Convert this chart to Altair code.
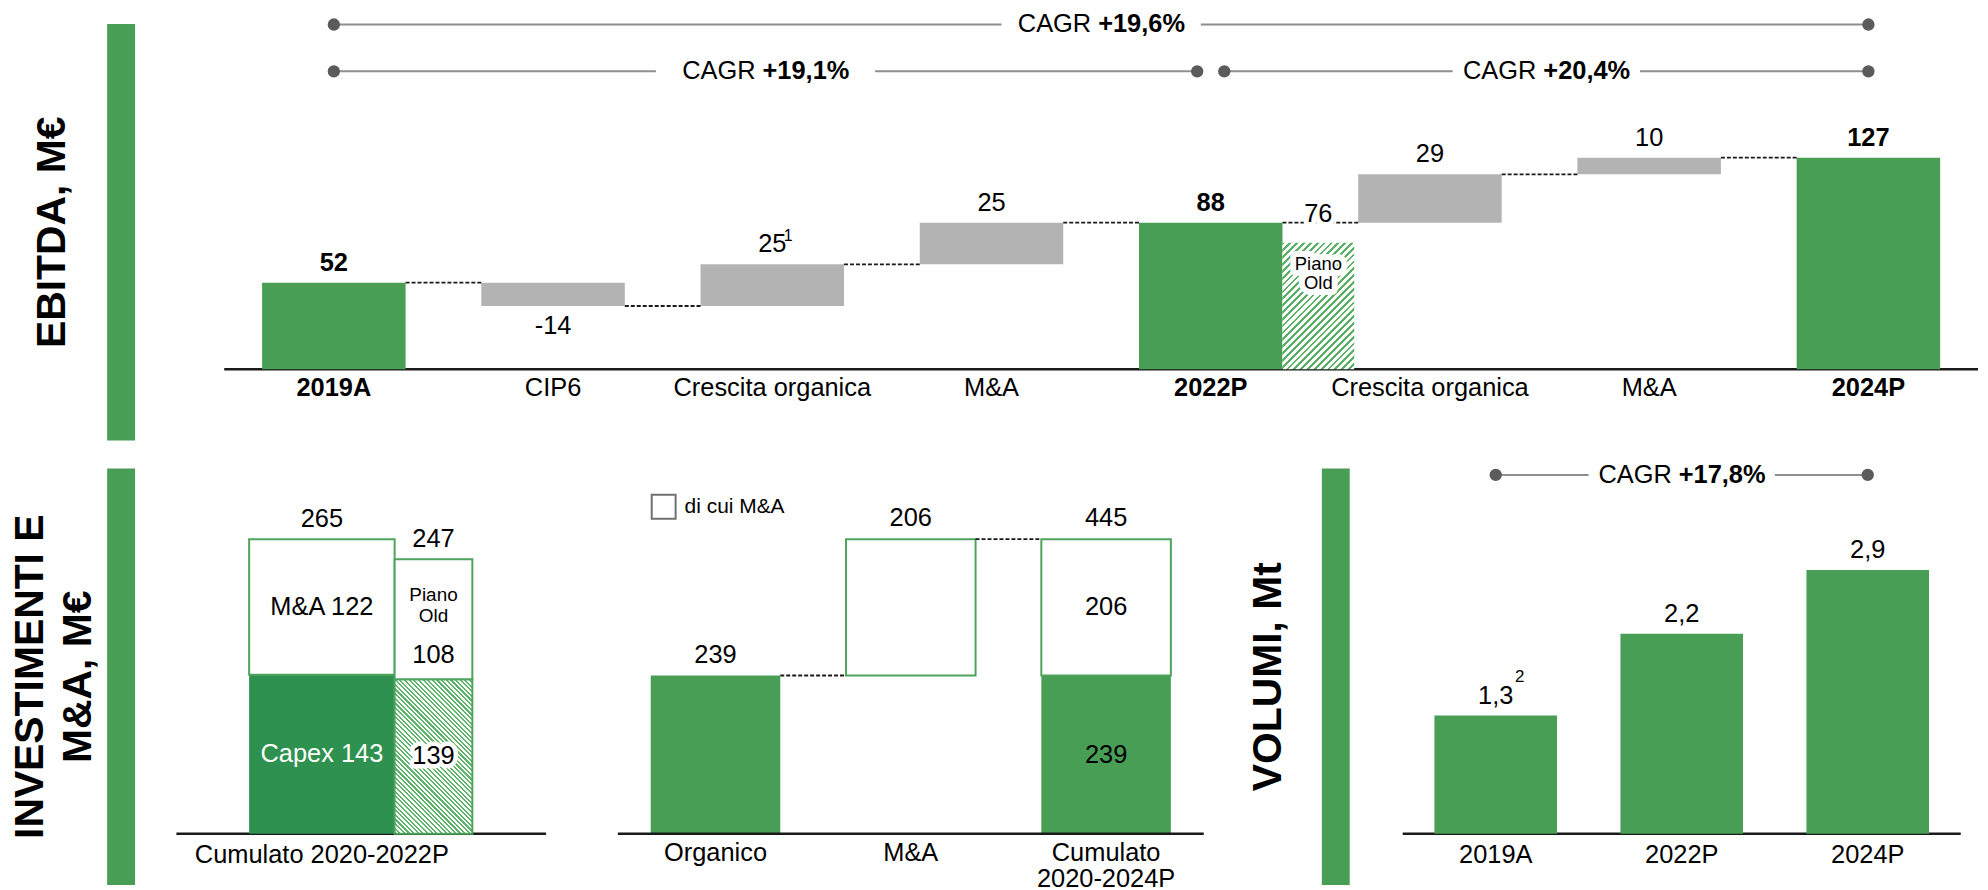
import altair as alt
import numpy as np
import pandas as pd

# ---------------- data ----------------
ebitda_cats = ["2019A", "CIP6", "Crescita organica", "M&A", "2022P", "Crescita organica", "M&A", "2024P"]
ebitda_vals = [52, -14, 25, 25, 88, 29, 10, 127]
ebitda_total = [True, False, False, False, True, False, False, True]
ebitda_note = ["", "", "1", "", "", "", "", ""]
ebitda_old_plan = 76
ebitda_old_text = "Piano\nOld"
ebitda_cagr_label = ["+19,6%", "+19,1%", "+20,4%"]
ebitda_cagr_start = ["2019A", "2019A", "2022P"]
ebitda_cagr_end = ["2024P", "2022P", "2024P"]
ebitda_cagr_row = [0, 1, 1]

inv_category = "Cumulato 2020-2022P"
inv_parts = ["Capex", "M&A"]
inv_new = [143, 122]
inv_old = [139, 108]
inv_old_text = "Piano\nOld"

mid_cats = ["Organico", "M&A", "Cumulato\n2020-2024P"]
mid_organic = 239
mid_ma = 206
mid_legend = "di cui M&A"

vol_cats = ["2019A", "2022P", "2024P"]
vol_vals = [1.3, 2.2, 2.9]
vol_labels = ["1,3", "2,2", "2,9"]
vol_note = ["2", "", ""]
vol_cagr = "+17,8%"

titles = {"ebitda": "EBITDA, M€", "inv": ["INVESTIMENTI E", "M&A, M€"], "vol": "VOLUMI, Mt"}

# ---------------- style ----------------
FONT = "Liberation Sans"
GREEN = "#489E55"
DARK_GREEN = "#2E9150"
GRAY = "#B3B3B3"
OUTLINE = "#4FA35C"
DOT = "#5B5B5B"
LINE = "#8E8E8E"
FS = 25.5
TFS = 41
H = 418


def sc(dom):
    return alt.Scale(domain=list(dom), nice=False, zero=False)


def X(f, dom):
    return alt.X(f, type="quantitative", scale=sc(dom), axis=None)


def Y(f, dom, ya=None):
    return alt.Y(f, type="quantitative", scale=sc(dom), axis=ya)


def side_axis(title, tx):
    # the green vertical band is the y-axis domain line, the big label is its title
    return alt.Axis(orient="left", offset=14, domain=True, domainColor=GREEN, domainWidth=28,
                    ticks=False, labels=False, grid=False, title=title,
                    titleFont=FONT, titleFontSize=TFS, titleFontWeight="bold", titleColor="black",
                    titleAngle=270, titleBaseline="middle", titleAlign="center",
                    titleX=tx, titleLineHeight=48)


def rects(df, sx, sy, ya=None, **mk):
    return alt.Chart(df).mark_rect(**mk).encode(
        x=X("x0", sx), x2=alt.X2("x1"), y=Y("y0", sy, ya), y2=alt.Y2("y1"))


def rules(df, sx, sy, ya=None, **mk):
    return alt.Chart(df).mark_rule(**mk).encode(
        x=X("x0", sx), x2=alt.X2("x1"), y=Y("y", sy, ya))


def points(df, sx, sy, ya=None):
    return alt.Chart(df).mark_circle(size=154, color=DOT, opacity=1).encode(
        x=X("x", sx), y=Y("y", sy, ya))


def texts(df, sx, sy, ya=None, xf="x", yf="y", tf="t", **kw):
    base = dict(font=FONT, fontSize=FS, fill="black", align="center", baseline="middle")
    base.update(kw)
    return alt.Chart(df).mark_text(**base).encode(
        x=X(xf, sx), y=Y(yf, sy, ya), text=alt.Text(tf, type="nominal"))


def hatch(w, h, period, frac, color, direction):
    k = (w + h) / (w * w + h * h)
    L = (w + h) / np.sqrt(2)
    n = int(np.ceil(L / period))
    stops = []
    for j in range(n):
        a, b, c = j / n, (j + frac) / n, (j + 1) / n
        stops += [{"offset": a, "color": color}, {"offset": b, "color": color},
                  {"offset": b, "color": "white"}, {"offset": c, "color": "white"}]
    if direction == "/":
        return {"gradient": "linear", "x1": 0, "y1": 0, "x2": k * w, "y2": k * h, "stops": stops}
    return {"gradient": "linear", "x1": 0, "y1": 1, "x2": k * w, "y2": 1 - k * h, "stops": stops}


# ================= TOP: EBITDA waterfall =================
T_STEP = 220.0
T_W = 1850
T_PPU = 1.672
T_BASE = 347
T_DX = [-0.5 - 90 / T_STEP, -0.5 - 90 / T_STEP + T_W / T_STEP]
T_DY = [-(H - T_BASE) / T_PPU, T_BASE / T_PPU]
T_HW = 72 / T_STEP
TA = side_axis(titles["ebitda"], -68)
n = len(ebitda_cats)

rows, run = [], 0
for i, (c, v, tot, note) in enumerate(zip(ebitda_cats, ebitda_vals, ebitda_total, ebitda_note)):
    y0, y1 = (0, v) if tot else (run, run + v)
    run = y1
    rows.append({"i": i, "cat": c, "x0": i - T_HW, "x1": i + T_HW, "y0": y0, "y1": y1,
                 "top": max(y0, y1), "bot": min(y0, y1), "t": str(v), "total": tot,
                 "neg": v < 0, "note": note, "zero": 0})
tb = pd.DataFrame(rows)
conn = pd.DataFrame([{"x0": i + T_HW, "x1": i + 1 - T_HW, "y": tb.y1[i]} for i in range(n - 1)])
base_t = pd.DataFrame([{"x0": -0.5, "x1": n - 0.5, "y": 0}])

i22 = ebitda_cats.index("2022P")
po = pd.DataFrame([{"x0": i22 + T_HW, "x1": i22 + 2 * T_HW, "x": i22 + 1.5 * T_HW,
                    "y0": 0, "y1": ebitda_old_plan, "yl": tb.y1[i22],
                    "t": str(ebitda_old_plan), "p": ebitda_old_text}])

T_ROWY = [(T_BASE - 1) / T_PPU, (T_BASE - 48) / T_PPU]
T_GAP = [100, 110, 94]
T_SHR = 13.6 / T_STEP
seg, dots, ctxt = [], [], []
for lab, s, e, r, g in zip(ebitda_cagr_label, ebitda_cagr_start, ebitda_cagr_end, ebitda_cagr_row, T_GAP):
    a, b = ebitda_cats.index(s), ebitda_cats.index(e)
    a = a + T_SHR if a > 0 else a
    b = b - T_SHR if b < n - 1 else b
    cy = T_ROWY[r]
    m, gg = (a + b) / 2, g / T_STEP
    seg += [{"x0": a, "x1": m - gg, "y": cy}, {"x0": m + gg, "x1": b, "y": cy}]
    dots += [{"x": a, "y": cy}, {"x": b, "y": cy}]
    ctxt.append({"x": m, "y": cy, "t": lab, "c": "CAGR"})
seg, dots, ctxt = pd.DataFrame(seg), pd.DataFrame(dots), pd.DataFrame(ctxt)

top_layers = [
    rules(base_t, T_DX, T_DY, TA, color="#1A1A1A", strokeWidth=2.5),
    rects(tb[tb.total], T_DX, T_DY, TA, fill=GREEN, strokeWidth=0),
    rects(tb[~tb.total], T_DX, T_DY, TA, fill=GRAY, strokeWidth=0),
    rects(po, T_DX, T_DY, TA, fill=hatch(72, ebitda_old_plan * T_PPU, 5.0, 0.4, "#58B065", "/"), strokeWidth=0),
    rules(conn, T_DX, T_DY, TA, color="#1A1A1A", strokeWidth=1.8, strokeDash=[4, 2]),
    rules(seg, T_DX, T_DY, TA, color=LINE, strokeWidth=2),
    points(dots, T_DX, T_DY, TA),
    texts(ctxt, T_DX, T_DY, TA, tf="c", align="right", dx=-10),
    texts(ctxt, T_DX, T_DY, TA, tf="t", align="left", dx=-3, fontWeight="bold"),
    texts(tb[~tb.neg & tb.total], T_DX, T_DY, TA, xf="i", yf="top", dy=-20, fontWeight="bold"),
    texts(tb[~tb.neg & ~tb.total], T_DX, T_DY, TA, xf="i", yf="top", dy=-20),
    texts(tb[tb.neg], T_DX, T_DY, TA, xf="i", yf="bot", dy=20.5),
    texts(tb[tb.note != ""], T_DX, T_DY, TA, xf="i", yf="top", tf="note", dx=16, dy=-28, fontSize=16),
    texts(tb[tb.total], T_DX, T_DY, TA, xf="i", yf="zero", tf="cat", dy=19, fontWeight="bold"),
    texts(tb[~tb.total], T_DX, T_DY, TA, xf="i", yf="zero", tf="cat", dy=19),
    texts(po, T_DX, T_DY, TA, yf="yl", dy=-9, stroke="white", strokeWidth=10, strokeJoin="round", fill="white"),
    texts(po, T_DX, T_DY, TA, yf="yl", dy=-9),
    texts(po, T_DX, T_DY, TA, yf="y1", tf="p", dy=21, fontSize=18.5, lineHeight=20, lineBreak="\n",
          stroke="white", strokeWidth=12, strokeJoin="round", fill="white"),
    texts(po, T_DX, T_DY, TA, yf="y1", tf="p", dy=21, fontSize=18.5, lineHeight=20, lineBreak="\n"),
]
top = alt.layer(*top_layers).properties(width=T_W, height=H)

# ================= BOTTOM LEFT: investimenti =================
I_W, I_U, I_C = 449, 146.0, 188
I_PPU, I_BASE = 1.115, 367
I_DX = [-I_C / I_U, (I_W - I_C) / I_U]
I_DY = [-(H - I_BASE) / I_PPU, I_BASE / I_PPU]
I_OW = 78 / I_U
IA = side_axis(titles["inv"], -90)
oc = 0.5 + I_OW / 2
new_tot, old_tot = sum(inv_new), sum(inv_old)
inv_low_new = pd.DataFrame([{"x0": -0.5, "x1": 0.5, "y0": 0, "y1": inv_new[0]}])
inv_up = pd.DataFrame([{"x0": -0.5, "x1": 0.5, "y0": inv_new[0], "y1": new_tot},
                       {"x0": 0.5, "x1": 0.5 + I_OW, "y0": inv_old[0], "y1": old_tot}])
inv_low_old = pd.DataFrame([{"x0": 0.5, "x1": 0.5 + I_OW, "y0": 0, "y1": inv_old[0]}])
base_i = pd.DataFrame([{"x0": (178 - 324) / I_U, "x1": (549 - 324) / I_U, "y": 0}])
i_tot = pd.DataFrame([{"x": 0, "y": new_tot, "t": str(new_tot)}, {"x": oc, "y": old_tot, "t": str(old_tot)}])
i_ma = pd.DataFrame([{"x": 0, "y": (inv_new[0] + new_tot) / 2, "t": f"{inv_parts[1]} {inv_new[1]}"}])
i_cap = pd.DataFrame([{"x": 0, "y": inv_new[0] / 2, "t": f"{inv_parts[0]} {inv_new[0]}"}])
i_po = pd.DataFrame([{"x": oc, "y": old_tot, "t": inv_old_text}])
i_108 = pd.DataFrame([{"x": oc, "y": inv_old[0], "t": str(inv_old[1])}])
i_139 = pd.DataFrame([{"x": oc, "y": inv_old[0] / 2, "t": str(inv_old[0])}])
i_xl = pd.DataFrame([{"x": 0, "y": 0, "t": inv_category}])

inv_layers = [
    rules(base_i, I_DX, I_DY, IA, color="#1A1A1A", strokeWidth=2.5),
    rects(inv_low_new, I_DX, I_DY, IA, fill=DARK_GREEN, strokeWidth=0),
    rects(inv_low_old, I_DX, I_DY, IA, fill=hatch(78, inv_old[0] * I_PPU, 3.3, 0.45, "#5EB46B", "\\"),
          stroke=OUTLINE, strokeWidth=2),
    rects(inv_up, I_DX, I_DY, IA, fill="white", stroke=OUTLINE, strokeWidth=2),
    texts(i_tot, I_DX, I_DY, IA, dy=-20),
    texts(i_ma, I_DX, I_DY, IA),
    texts(i_cap, I_DX, I_DY, IA, fill="white"),
    texts(i_po, I_DX, I_DY, IA, dy=36, fontSize=19, lineHeight=21, lineBreak="\n"),
    texts(i_108, I_DX, I_DY, IA, dy=-24),
    texts(i_139, I_DX, I_DY, IA, stroke="white", strokeWidth=9, strokeJoin="round", fill="white"),
    texts(i_139, I_DX, I_DY, IA),
    texts(i_xl, I_DX, I_DY, IA, dy=21),
]
inv = alt.layer(*inv_layers).properties(width=I_W, height=H)

# ================= BOTTOM MIDDLE: organico + M&A =================
M_W, M_STEP, M_C = 770, 196.0, 134
M_PPU, M_BASE = 0.664, 367
M_DX = [-M_C / M_STEP, (M_W - M_C) / M_STEP]
M_DY = [-(H - M_BASE) / M_PPU, M_BASE / M_PPU]
M_HW = 65 / M_STEP
m_tot = mid_organic + mid_ma
m_green = pd.DataFrame([{"x0": 0 - M_HW, "x1": 0 + M_HW, "y0": 0, "y1": mid_organic},
                        {"x0": 2 - M_HW, "x1": 2 + M_HW, "y0": 0, "y1": mid_organic}])
m_white = pd.DataFrame([{"x0": 1 - M_HW, "x1": 1 + M_HW, "y0": mid_organic, "y1": m_tot, "leg": mid_legend},
                        {"x0": 2 - M_HW, "x1": 2 + M_HW, "y0": mid_organic, "y1": m_tot, "leg": mid_legend}])
m_conn = pd.DataFrame([{"x0": 0 + M_HW, "x1": 1 - M_HW, "y": mid_organic},
                       {"x0": 1 + M_HW, "x1": 2 - M_HW, "y": m_tot}])
base_m = pd.DataFrame([{"x0": -0.5, "x1": len(mid_cats) - 0.5, "y": 0}])
m_top = pd.DataFrame([{"x": 0, "y": mid_organic, "t": str(mid_organic)},
                      {"x": 1, "y": m_tot, "t": str(mid_ma)},
                      {"x": 2, "y": m_tot, "t": str(m_tot)}])
m_in = pd.DataFrame([{"x": 2, "y": (mid_organic + m_tot) / 2, "t": str(mid_ma)},
                     {"x": 2, "y": mid_organic / 2, "t": str(mid_organic)}])
m_xl = pd.DataFrame([{"x": i, "y": 0, "t": c} for i, c in enumerate(mid_cats)])

mid_layers = [
    rects(m_green, M_DX, M_DY, fill=GREEN, strokeWidth=0),
    alt.Chart(m_white).mark_rect(strokeWidth=0).encode(
        x=X("x0", M_DX), x2=alt.X2("x1"), y=Y("y0", M_DY), y2=alt.Y2("y1"),
        fill=alt.Fill("leg:N", scale=alt.Scale(domain=[mid_legend], range=["white"]),
                      legend=alt.Legend(orient="none", legendX=69, legendY=26, title=None,
                                        symbolType="square", symbolSize=576,
                                        symbolStrokeColor="#707070", symbolStrokeWidth=2,
                                        labelFont=FONT, labelFontSize=21, labelColor="black",
                                        labelOffset=8, padding=0))),
    rects(m_white, M_DX, M_DY, fillOpacity=0, stroke=OUTLINE, strokeWidth=2),
    rules(m_conn, M_DX, M_DY, color="#1A1A1A", strokeWidth=1.8, strokeDash=[4, 2]),
    rules(base_m, M_DX, M_DY, color="#1A1A1A", strokeWidth=2.5),
    texts(m_top, M_DX, M_DY, dy=-21),
    texts(m_in, M_DX, M_DY),
    texts(m_xl, M_DX, M_DY, baseline="top", dy=7, lineBreak="\n", lineHeight=27),
]
midc = alt.layer(*mid_layers).properties(width=M_W, height=H)

# ================= BOTTOM RIGHT: volumi =================
V_W, V_STEP, V_C = 617, 560 / 3, 147
V_PPU, V_BASE = 91.2, 367
V_DX = [-V_C / V_STEP, (V_W - V_C) / V_STEP]
V_DY = [-(H - V_BASE) / V_PPU, V_BASE / V_PPU]
V_HW = 61.5 / V_STEP
VA = side_axis(titles["vol"], -67)
vb = pd.DataFrame([{"i": i, "x0": i - V_HW, "x1": i + V_HW, "y0": 0, "y1": v, "t": l, "c": c, "note": nt}
                   for i, (c, v, l, nt) in enumerate(zip(vol_cats, vol_vals, vol_labels, vol_note))])
base_v = pd.DataFrame([{"x0": -0.5, "x1": len(vol_cats) - 0.5, "y": 0}])
V_CY = (V_BASE - 7) / V_PPU
V_G = 93.5 / V_STEP
vm = (len(vol_cats) - 1) / 2
v_seg = pd.DataFrame([{"x0": 0, "x1": vm - V_G, "y": V_CY}, {"x0": vm + V_G, "x1": len(vol_cats) - 1, "y": V_CY}])
v_dots = pd.DataFrame([{"x": 0, "y": V_CY}, {"x": len(vol_cats) - 1, "y": V_CY}])
v_txt = pd.DataFrame([{"x": vm, "y": V_CY, "t": vol_cagr, "c": "CAGR"}])

vol_layers = [
    rules(base_v, V_DX, V_DY, VA, color="#1A1A1A", strokeWidth=2.5),
    rects(vb, V_DX, V_DY, VA, fill=GREEN, strokeWidth=0),
    rules(v_seg, V_DX, V_DY, VA, color=LINE, strokeWidth=2),
    points(v_dots, V_DX, V_DY, VA),
    texts(v_txt, V_DX, V_DY, VA, tf="c", align="right", dx=-10),
    texts(v_txt, V_DX, V_DY, VA, tf="t", align="left", dx=-3, fontWeight="bold"),
    texts(vb, V_DX, V_DY, VA, xf="i", yf="y1", dy=-20),
    texts(vb[vb.note != ""], V_DX, V_DY, VA, xf="i", yf="y1", tf="note", dx=24, dy=-39, fontSize=17),
    texts(vb, V_DX, V_DY, VA, xf="i", yf="y0", tf="c", dy=21),
]
vol = alt.layer(*vol_layers).properties(width=V_W, height=H)

# ================= layout =================
bottom_row = alt.hconcat(inv, midc, vol, spacing=0, bounds="flush").resolve_scale(
    fill="independent").resolve_legend(fill="independent")

chart = alt.vconcat(top, bottom_row, spacing=28, bounds="flush").resolve_scale(
    fill="independent").resolve_legend(fill="independent").properties(
    padding={"left": 2, "top": 2, "right": 0, "bottom": 0}, background="white"
).configure_view(stroke=None)

chart.save("out.html", embed_options={"renderer": "svg", "actions": False})
